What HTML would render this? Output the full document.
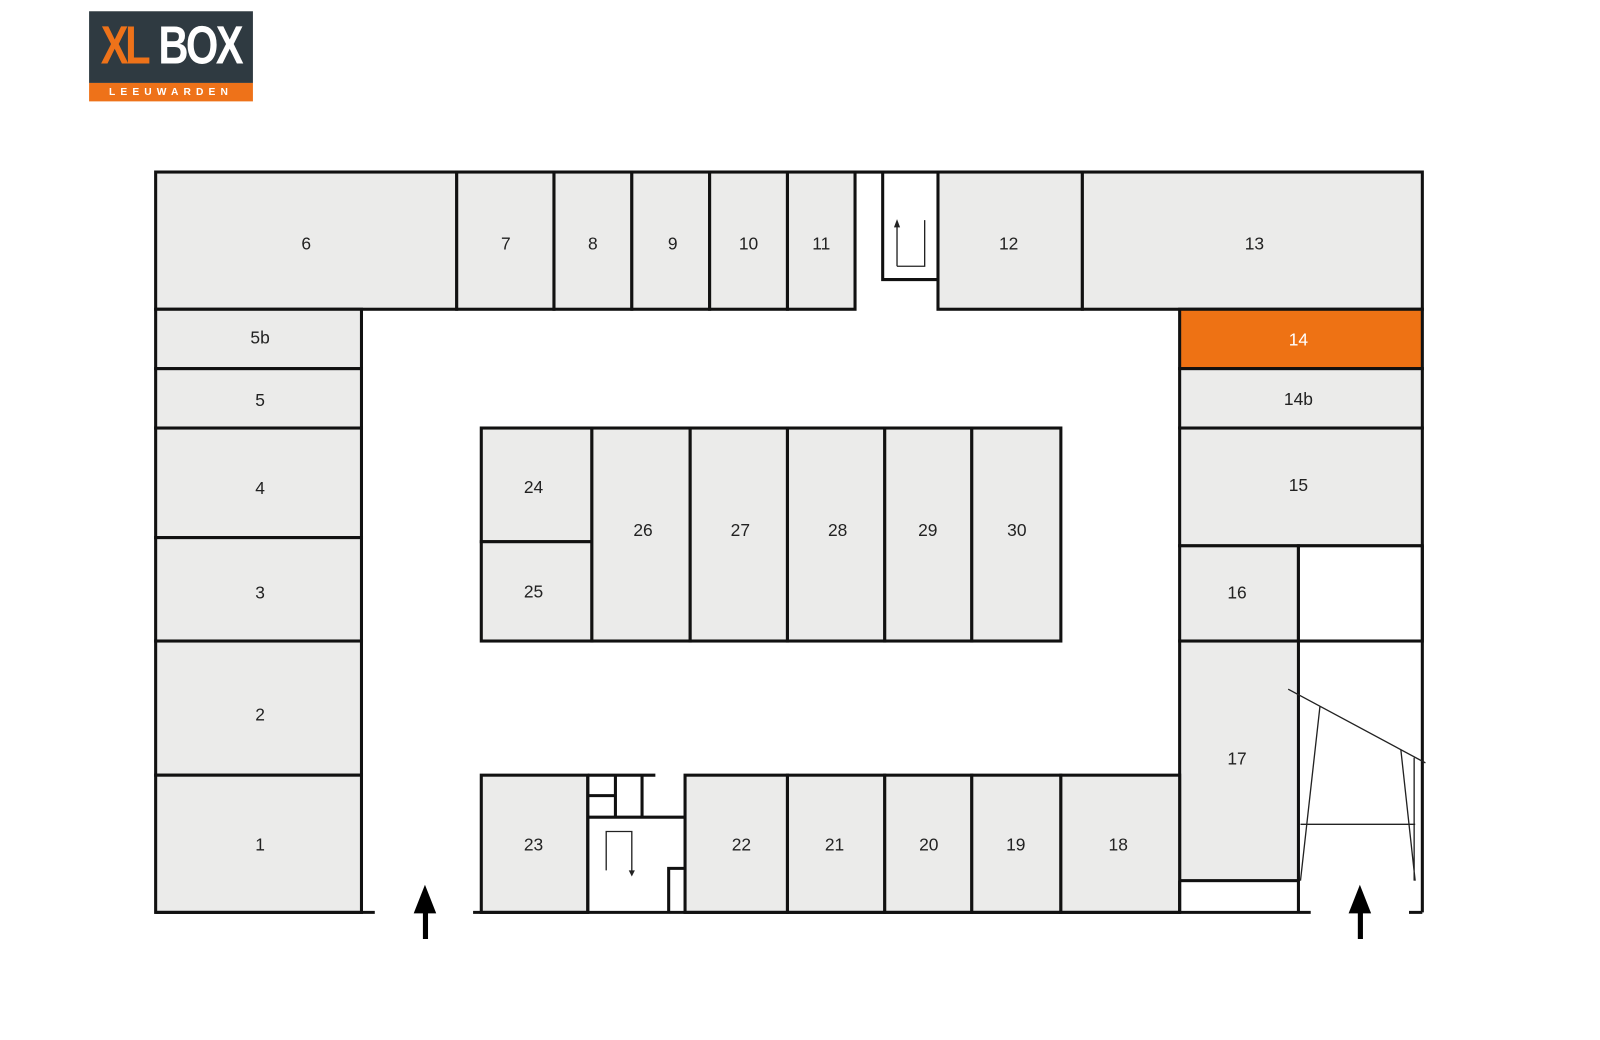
<!DOCTYPE html>
<html><head><meta charset="utf-8"><style>
html,body{margin:0;padding:0;background:#fff;width:1600px;height:1040px;overflow:hidden}
svg{display:block}
text{font-family:"Liberation Sans",sans-serif;font-size:17px;fill:#222;text-anchor:middle;dominant-baseline:middle}
</style></head><body>
<svg width="1600" height="1040" viewBox="0 0 1600 1040" xmlns="http://www.w3.org/2000/svg">
<g transform="scale(1.024)">
<!-- logo -->
<rect x="87" y="11" width="160" height="70" fill="#2f3a41"/>
<rect x="87" y="81" width="160" height="18" fill="#ee7219"/>
<text x="121" y="48" style="font-size:48px;font-weight:bold;fill:#ee7219;letter-spacing:-4px" transform="translate(121 48) scale(0.85 1.1) translate(-121 -48)">XL</text>
<text x="195" y="48" style="font-size:48px;font-weight:bold;fill:#fff;letter-spacing:-3px" transform="translate(195 48) scale(0.85 1.1) translate(-195 -48)">BOX</text>
<text x="167" y="90" style="font-size:10px;font-weight:bold;fill:#fff;letter-spacing:5px">LEEUWARDEN</text>

<g fill="#ebebea" stroke="#111" stroke-width="3">
<rect x="152" y="168" width="294" height="134"/>
<rect x="446" y="168" width="95" height="134"/>
<rect x="541" y="168" width="76" height="134"/>
<rect x="617" y="168" width="76" height="134"/>
<rect x="693" y="168" width="76" height="134"/>
<rect x="769" y="168" width="66" height="134"/>
<rect x="916" y="168" width="141" height="134"/>
<rect x="1057" y="168" width="332" height="134"/>
<rect x="152" y="302" width="201" height="58"/>
<rect x="152" y="360" width="201" height="58"/>
<rect x="152" y="418" width="201" height="107"/>
<rect x="152" y="525" width="201" height="101"/>
<rect x="152" y="626" width="201" height="131"/>
<rect x="152" y="757" width="201" height="134"/>
<rect x="1152" y="302" width="237" height="58" fill="#ee7214"/>
<rect x="1152" y="360" width="237" height="58"/>
<rect x="1152" y="418" width="237" height="115"/>
<rect x="1152" y="533" width="116" height="93"/>
<rect x="1268" y="533" width="121" height="93" fill="#fff"/>
<rect x="1152" y="626" width="116" height="234"/>
<rect x="470" y="418" width="108" height="111"/>
<rect x="470" y="529" width="108" height="97"/>
<rect x="578" y="418" width="96" height="208"/>
<rect x="674" y="418" width="95" height="208"/>
<rect x="769" y="418" width="95" height="208"/>
<rect x="864" y="418" width="85" height="208"/>
<rect x="949" y="418" width="87" height="208"/>
<rect x="470" y="757" width="104" height="134"/>
<rect x="669" y="757" width="100" height="134"/>
<rect x="769" y="757" width="95" height="134"/>
<rect x="864" y="757" width="85" height="134"/>
<rect x="949" y="757" width="87" height="134"/>
<rect x="1036" y="757" width="116" height="134"/>
</g>
<g fill="none" stroke="#111" stroke-width="3">
<path d="M835 168 H916"/>
<path d="M862 168 V273 H916"/>
<path d="M574 757 H640 M574 757 V891 M574 798 H669 M601 757 V798 M627 757 V798 M574 777 H601"/>
<path d="M653 891 V848 H669"/>
<path d="M1268 626 H1389 M1389 533 V891 M1268 860 V891 M1152 860 V891"/>
<path d="M152 891 H366 M462 891 H1280 M1376 891 H1389"/>
</g>
<g fill="none" stroke="#222" stroke-width="1.3">
<path d="M876 260 V218 M903 215 V260 H876"/>
<path d="M592 850 V812 H617 V852"/>
<path d="M1258 673 L1392 745 M1289 690 L1270 860 M1368 732 L1382 860 M1381 740 V860 M1270 805 H1382"/>
</g>
<path d="M873 222 L876 214 L879 222Z M614 850 L617 856 L620 850Z" fill="#222"/>
<g fill="#000">
<rect x="413" y="885" width="5" height="32"/><path d="M404 892 L415 864 L426 892Z"/>
<rect x="1326" y="885" width="5" height="32"/><path d="M1317 892 L1328 864 L1339 892Z"/>
</g>
<text x="299" y="239">6</text><text x="494" y="239">7</text><text x="579" y="239">8</text>
<text x="657" y="239">9</text><text x="731" y="239">10</text><text x="802" y="239">11</text>
<text x="985" y="239">12</text><text x="1225" y="239">13</text>
<text x="254" y="331">5b</text><text x="254" y="392">5</text><text x="254" y="478">4</text>
<text x="254" y="580">3</text><text x="254" y="699">2</text><text x="254" y="826">1</text>
<text x="1268" y="333" style="fill:#fff">14</text><text x="1268" y="391">14b</text>
<text x="1268" y="475">15</text><text x="1208" y="580">16</text><text x="1208" y="742">17</text>
<text x="521" y="477">24</text><text x="521" y="579">25</text><text x="628" y="519">26</text>
<text x="723" y="519">27</text><text x="818" y="519">28</text><text x="906" y="519">29</text><text x="993" y="519">30</text>
<text x="521" y="826">23</text><text x="724" y="826">22</text><text x="815" y="826">21</text>
<text x="907" y="826">20</text><text x="992" y="826">19</text><text x="1092" y="826">18</text>
</g>
</svg>
</body></html>
